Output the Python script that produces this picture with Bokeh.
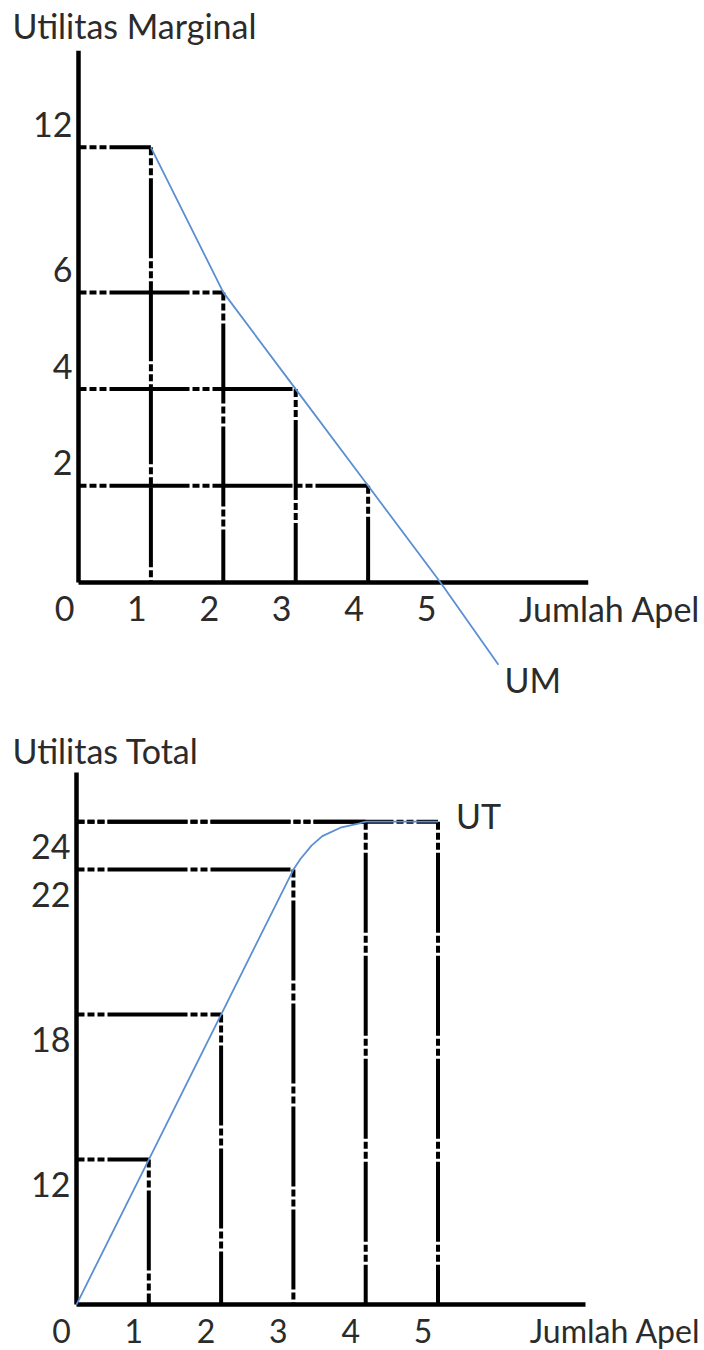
import numpy as np
from bokeh.plotting import figure
from bokeh.layouts import column
from bokeh.models import Range1d
from bokeh.core.properties import value
from bokeh.embed import file_html
from bokeh.resources import INLINE

# ---------------- data ----------------
quantity = [1, 2, 3, 4, 5]
mu_values = [12, 6, 4, 2, 0]          # Utilitas Marginal
tu_values = [12, 18, 22, 24, 24]      # Utilitas Total
x_ticks = [0, 1, 2, 3, 4, 5]
mu_ticks = [2, 4, 6, 12]
tu_ticks = [12, 18, 22, 24]
# curves as drawn (UM continues below zero, UT bends smoothly to its maximum)
um_curve_x = [1, 2, 3, 4, 5, 5.8]
um_curve_y = [12, 6, 4, 2, 0, -1.7]
ut_curve_x = [0, 1, 2, 3, 3.1, 3.25, 3.4, 3.65, 3.9, 4, 5]
ut_curve_y = [0, 12, 18, 22, 22.45, 23.0, 23.4, 23.75, 23.92, 24, 24]

# ------------- schematic (broken) value axes -------------
mu_axis_vals = [0, 2, 4, 6, 12]
mu_axis_steps = [0, 1, 2, 3, 4.5]
tu_axis_vals = [0, 12, 18, 22, 24]
tu_axis_steps = [0, 1, 2, 3, 3.33]


def make_scale(vals, steps):
    vals = np.asarray(vals, float)
    steps = np.asarray(steps, float)
    slope0 = (steps[1] - steps[0]) / (vals[1] - vals[0])

    def f(v):
        v = np.asarray(v, float)
        out = np.interp(v, vals, steps)
        return np.where(v < vals[0], steps[0] + (v - vals[0]) * slope0, out)
    return f


mu_scale = make_scale(mu_axis_vals, mu_axis_steps)
tu_scale = make_scale(tu_axis_vals, tu_axis_steps)

FONT = value("Lato")
FSIZE = "34px"
TCOL = "#2b2b2b"
BLUE = "#5b8fd4"
DASH = "80 3 7 3 7 3"
DASH_OFF = 72
W = 704


def base_fig(h, xr, yr):
    p = figure(width=W, height=h, x_range=Range1d(*xr), y_range=Range1d(*yr),
               output_backend="svg", toolbar_location=None, min_border=0,
               x_axis_location=None, y_axis_location=None)
    p.grid.visible = False
    p.outline_line_color = None
    p.background_fill_color = "white"
    p.border_fill_color = "white"
    return p


def txt(p, x, y, t, align="center", xo=0, yo=0, size=FSIZE):
    p.text(x=x, y=y, text=t, text_font=FONT, text_font_size=size,
           text_color=TCOL, text_align=align, text_baseline="middle",
           x_offset=xo, y_offset=yo)


def guides(p, xq, lv):
    n = len(xq)
    p.segment(x0=np.zeros(n), y0=lv, x1=xq, y1=lv, line_color="black",
              line_width=4, line_dash=DASH, line_dash_offset=DASH_OFF)
    p.segment(x0=xq, y0=lv, x1=xq, y1=np.zeros(n), line_color="black",
              line_width=4, line_dash=DASH, line_dash_offset=DASH_OFF)


# ================= top panel: Utilitas Marginal =================
TX = (-1.0773, 8.646)
TY = (-1.2203, 6.0186)
top = base_fig(700, TX, TY)
q = np.array(quantity)
mu = np.array(mu_values, float)
mask = mu > 0
guides(top, q[mask], mu_scale(mu[mask]))
# axes
top.segment(x0=[0, 0], y0=[0, 0], x1=[7.04, 0], y1=[0, 5.5],
            line_color="black", line_width=4.5)
top.line(um_curve_x, mu_scale(um_curve_y), line_color=BLUE, line_width=1.8)
# tick labels
txt(top, x_ticks, [0] * len(x_ticks), [str(t) for t in x_ticks], xo=-14, yo=26)
txt(top, [0] * len(mu_ticks), mu_scale(mu_ticks), [str(t) for t in mu_ticks],
    align="right", xo=-6, yo=-23)
txt(top, [TX[0]], [TY[1]], ["Utilitas Marginal"], align="left", xo=12, yo=25)
txt(top, [TX[1]], [0], ["Jumlah Apel"], align="right", xo=-4, yo=26)
txt(top, [um_curve_x[-1]], [mu_scale(um_curve_y[-1])], ["UM"], align="left",
    xo=6, yo=15)

# ================= bottom panel: Utilitas Total =================
BX = (-1.0512, 8.686)
BY = (-0.317, 4.166)
bot = base_fig(650, BX, BY)
guides(bot, q, tu_scale(tu_values))
bot.segment(x0=[0, 0], y0=[0, 0], x1=[7.04, 0], y1=[0, 3.67],
            line_color="black", line_width=4.5)
bot.line(ut_curve_x, tu_scale(ut_curve_y), line_color=BLUE, line_width=1.8)
txt(bot, x_ticks, [0] * len(x_ticks), [str(t) for t in x_ticks], xo=-15, yo=26,
    size="32px")
txt(bot, [0] * len(tu_ticks), tu_scale(tu_ticks), [str(t) for t in tu_ticks],
    align="right", xo=-6, yo=25)
txt(bot, [BX[0]], [BY[1]], ["Utilitas Total"], align="left", xo=12, yo=50)
txt(bot, [BX[1]], [0], ["Jumlah Apel"], align="right", xo=-4, yo=26,
    size="32px")
txt(bot, [ut_curve_x[-1]], [tu_scale(ut_curve_y[-1])], ["UT"], align="left",
    xo=18, yo=-6)

layout = column(top, bot, spacing=0)
open("out.html", "w").write(file_html(layout, INLINE))
